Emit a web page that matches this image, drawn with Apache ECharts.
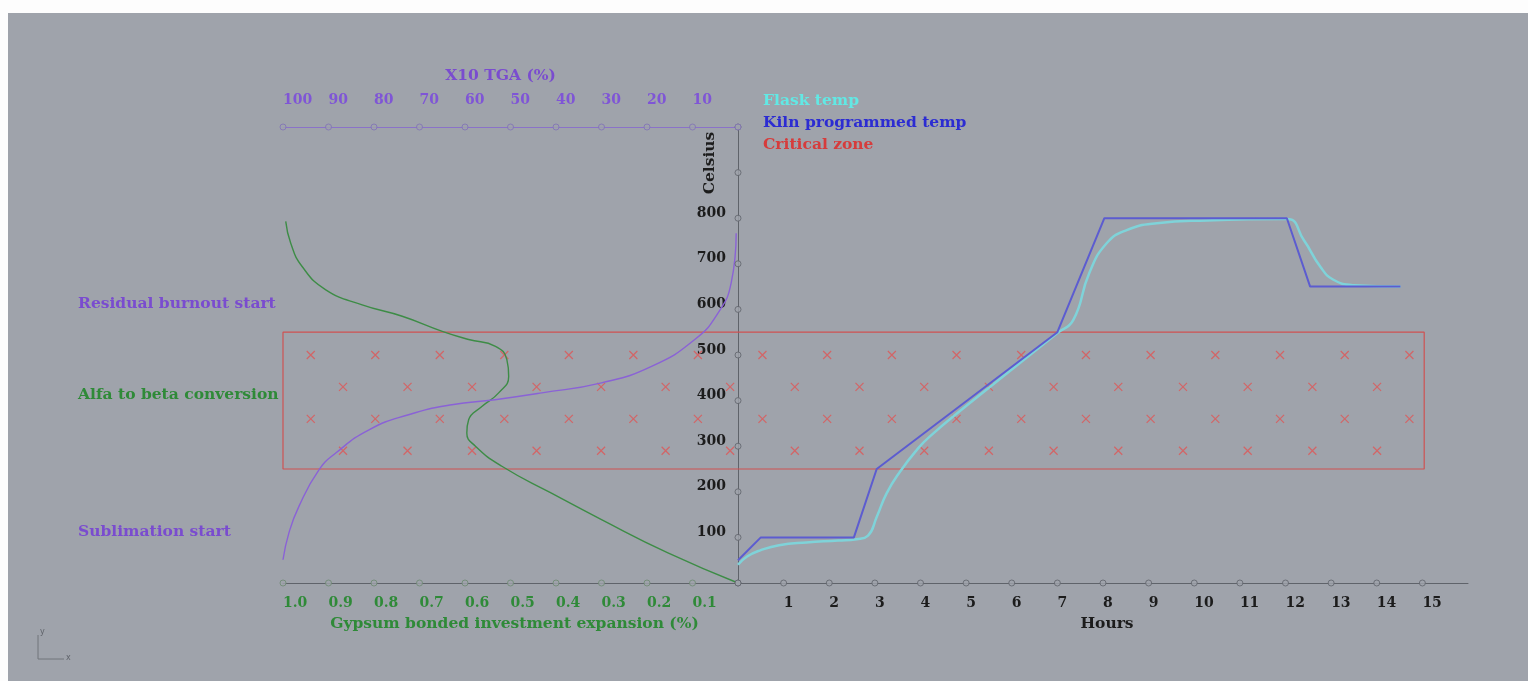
<!DOCTYPE html>
<html>
<head>
<meta charset="utf-8">
<title>Burnout chart</title>
<script src="https://cdn.jsdelivr.net/npm/echarts@6/dist/echarts.min.js"></script>
<style>
  html, body { margin: 0; padding: 0; background: #fdfdfd; }
  #paper { position: absolute; left: 8px; top: 13px; width: 1520px; height: 668px; background: #9fa3ab; }
  #chart { position: absolute; left: 0; top: 0; width: 1528px; height: 681px; }
</style>
</head>
<body>
<div id="paper"></div>
<div id="chart"></div>
<script>
// ---- data ----
const hourTicks = [0, 1, 2, 3, 4, 5, 6, 7, 8, 9, 10, 11, 12, 13, 14, 15]
const celsiusTicks = [0, 100, 200, 300, 400, 500, 600, 700, 800, 900, 1000]
const celsiusLabels = [100, 200, 300, 400, 500, 600, 700, 800]
const gypsumTicks = [0.1, 0.2, 0.3, 0.4, 0.5, 0.6, 0.7, 0.8, 0.9, 1.0]
const tgaTicks = [0, 10, 20, 30, 40, 50, 60, 70, 80, 90, 100]

// kiln programmed temp (hours, celsius)
const kilnHours = [0, 0.5, 2.54, 3.04, 7.0, 8.03, 12.03, 12.54, 14.52]
const kilnTemp = [50, 100, 100, 250, 550, 800, 800, 650, 650]

// flask temp (hours, celsius)
const flaskHours = [0, 0.2, 0.5, 0.9, 1.5, 2.2, 2.6, 2.85, 3.04, 3.26, 3.55, 3.92, 4.2, 5.0, 6.0, 7.0, 7.35, 7.7, 8.08, 8.52, 9.18, 10.28, 12.03, 12.4, 12.76, 13.05, 13.5, 14.52]
const flaskTemp = [40, 58, 72, 83, 89, 93, 96, 104, 145, 197, 244, 292, 321, 388, 468, 548, 577, 680, 745, 774, 789, 795, 798, 752, 694, 665, 653, 650]

// gypsum bonded investment expansion (%, celsius)
const gypsumExp = [0, 0.154, 0.30, 0.41, 0.519, 0.577, 0.596, 0.592, 0.563, 0.526, 0.504, 0.508, 0.533, 0.592, 0.65, 0.738, 0.826, 0.906, 0.958, 0.983, 0.994]
const gypsumTemp = [0, 66, 139, 197, 256, 300, 329, 358, 387, 417, 453, 490, 519, 534, 552, 585, 610, 643, 694, 745, 793]

// TGA x10 (%, celsius)
const tgaValue = [100, 98.7, 96.5, 92.1, 88.4, 81.1, 72.4, 62.9, 53.4, 43.1, 30.0, 19.0, 9.5, 4.4, 1.5, 0.4]
const tgaTemp = [51, 110, 168, 248, 285, 336, 369, 391, 402, 417, 439, 475, 534, 592, 658, 767]

// critical zone
const zoneLow = 250
const zoneHigh = 550
const zoneEndHour = 15.04
const zoneEndGypsum = 1.0

// cross hatch inside the critical zone (decoration)
const hatchRows = [500, 430, 360, 290]
const hatchStart = -9.39
const hatchStep = 1.418

// ---- build ----
const zip = (xs, ys) => xs.map((x, i) => [x, ys[i]])

let hatchLeft = []
let hatchRight = []
hatchRows.forEach((temp, i) => {
  for (let h = hatchStart + (i % 2) * hatchStep / 2; h < zoneEndHour; h += hatchStep) {
    // left half uses the gypsum scale: 0.1 % sits where 1 hour sits
    if (h < 0) hatchLeft.push([-h / 10, temp])
    else hatchRight.push([h, temp])
  }
})

const serif = 'DejaVu Serif'
const purple = '#7a4ccf'
const green = '#2f8a38'
const ink = '#1c1c1c'
const axisGray = '#5f636a'
const zoneRed = '#cf5252'
const bigFont = 'bold 15.5px "DejaVu Serif"'

const tickDot = (name, xi, yi, data, border) => ({
  name: name,
  type: 'scatter',
  xAxisIndex: xi,
  yAxisIndex: yi,
  data: data,
  symbol: 'circle',
  symbolSize: 6,
  silent: true,
  z: 5,
  itemStyle: { color: '#9fa3ab', borderColor: border, borderWidth: 1 }
})

const crossPath = 'path://M0,0L10,10M10,0L0,10'

let chart = echarts.init(document.getElementById('chart'), null, { renderer: 'canvas' })

chart.setOption({
  backgroundColor: 'transparent',
  animation: false,
  textStyle: { fontFamily: serif },
  grid: [
    { left: 283, top: 127, width: 455, height: 456 },
    { left: 738, top: 127, width: 730, height: 456 }
  ],
  legend: {
    orient: 'vertical',
    left: 753,
    top: 88,
    itemWidth: 0,
    itemHeight: 14,
    itemGap: 6,
    selectedMode: false,
    textStyle: { fontFamily: serif, fontWeight: 'bold', fontSize: 15.5 },
    data: [
      { name: 'Flask temp', icon: 'rect', textStyle: { color: '#62e8e4' } },
      { name: 'Kiln programmed temp', icon: 'rect', textStyle: { color: '#2c2cd2' } },
      { name: 'Critical zone', icon: 'rect', textStyle: { color: '#d63c3c' } }
    ]
  },
  xAxis: [
    {
      // gypsum expansion, bottom left
      type: 'value', gridIndex: 0, position: 'bottom', inverse: true,
      min: 0, max: 1.0, interval: 0.1,
      name: 'Gypsum bonded investment expansion (%)', nameLocation: 'middle', nameGap: 33,
      nameTextStyle: { color: green, fontFamily: serif, fontWeight: 'bold', fontSize: 15.5, padding: [0, 0, 0, 8] },
      axisLine: { lineStyle: { color: axisGray, width: 1 } },
      axisTick: { show: false },
      splitLine: { show: false },
      axisLabel: {
        color: green, fontFamily: serif, fontWeight: 'bold', fontSize: 14, margin: 13, align: 'left',
        formatter: v => v > 0.05 ? v.toFixed(1) : ''
      }
    },
    {
      // TGA, top left
      type: 'value', gridIndex: 0, position: 'top', inverse: true,
      min: 0, max: 100, interval: 10,
      name: 'X10 TGA (%)', nameLocation: 'middle', nameGap: 43,
      nameTextStyle: { color: purple, fontFamily: serif, fontWeight: 'bold', fontSize: 15.5, padding: [0, 20, 0, 0] },
      axisLine: { lineStyle: { color: '#8a72c8', width: 1 } },
      axisTick: { show: false },
      splitLine: { show: false },
      axisLabel: {
        color: '#7f55d6', fontFamily: serif, fontWeight: 'bold', fontSize: 14, margin: 20, align: 'left',
        formatter: v => v > 0 ? String(v) : ''
      }
    },
    {
      // hours, bottom right
      type: 'value', gridIndex: 1, position: 'bottom',
      min: 0, max: 16, interval: 1,
      name: 'Hours', nameLocation: 'middle', nameGap: 33,
      nameTextStyle: { color: ink, fontFamily: serif, fontWeight: 'bold', fontSize: 15.5, padding: [0, 0, 0, 8] },
      axisLine: { lineStyle: { color: axisGray, width: 1 } },
      axisTick: { show: false },
      splitLine: { show: false },
      axisLabel: {
        color: ink, fontFamily: serif, fontWeight: 'bold', fontSize: 14, margin: 13, align: 'left',
        formatter: v => (v > 0 && v < 16) ? String(v) : ''
      }
    }
  ],
  yAxis: [
    {
      type: 'value', gridIndex: 0, min: 0, max: 1000, interval: 100, show: false,
      splitLine: { show: false }
    },
    {
      type: 'value', gridIndex: 1, position: 'left', min: 0, max: 1000, interval: 100,
      axisLine: { show: true, lineStyle: { color: axisGray, width: 1 } },
      axisTick: { show: false },
      splitLine: { show: false },
      axisLabel: {
        color: ink, fontFamily: serif, fontWeight: 'bold', fontSize: 14, margin: 12,
        verticalAlign: 'bottom', lineHeight: 10,
        formatter: v => celsiusLabels.includes(v) ? String(v) : ''
      }
    }
  ],
  graphic: [
    {
      type: 'text', x: 710, y: 163, rotation: Math.PI / 2,
      style: { text: 'Celsius', fill: ink, font: bigFont, textAlign: 'center', textVerticalAlign: 'middle' }
    },
    {
      type: 'text', x: 78, y: 304,
      style: { text: 'Residual burnout start', fill: purple, font: bigFont, textVerticalAlign: 'middle' }
    },
    {
      type: 'text', x: 78, y: 395,
      style: { text: 'Alfa to beta conversion', fill: green, font: bigFont, textVerticalAlign: 'middle' }
    },
    {
      type: 'text', x: 78, y: 532,
      style: { text: 'Sublimation start', fill: purple, font: bigFont, textVerticalAlign: 'middle' }
    },
    // little xy gizmo in the corner
    { type: 'line', shape: { x1: 38, y1: 635, x2: 38, y2: 659 }, style: { stroke: '#70747b', lineWidth: 1 } },
    { type: 'line', shape: { x1: 38, y1: 659, x2: 64, y2: 659 }, style: { stroke: '#70747b', lineWidth: 1 } },
    { type: 'text', x: 40, y: 628, style: { text: 'y', fill: '#60646b', font: '8px "DejaVu Sans"' } },
    { type: 'text', x: 66, y: 654, style: { text: 'x', fill: '#60646b', font: '8px "DejaVu Sans"' } }
  ],
  series: [
    {
      name: 'Critical zone', type: 'line', xAxisIndex: 0, yAxisIndex: 0,
      data: [[0, zoneHigh], [zoneEndGypsum, zoneHigh], [zoneEndGypsum, zoneLow], [0, zoneLow]],
      symbol: 'none', silent: true, z: 1,
      lineStyle: { color: zoneRed, width: 1.2 }
    },
    {
      name: 'Critical zone', type: 'line', xAxisIndex: 2, yAxisIndex: 1,
      data: [[0, zoneHigh], [zoneEndHour, zoneHigh], [zoneEndHour, zoneLow], [0, zoneLow]],
      symbol: 'none', silent: true, z: 1,
      lineStyle: { color: zoneRed, width: 1.2 }
    },
    {
      name: 'hatch left', type: 'scatter', xAxisIndex: 0, yAxisIndex: 0,
      data: hatchLeft, symbol: crossPath, symbolSize: 8, silent: true, z: 2,
      itemStyle: { color: 'transparent', borderColor: '#e05555', borderWidth: 1.2 }
    },
    {
      name: 'hatch right', type: 'scatter', xAxisIndex: 2, yAxisIndex: 1,
      data: hatchRight, symbol: crossPath, symbolSize: 8, silent: true, z: 2,
      itemStyle: { color: 'transparent', borderColor: '#e05555', borderWidth: 1.2 }
    },
    {
      name: 'Gypsum expansion', type: 'line', xAxisIndex: 0, yAxisIndex: 0,
      data: zip(gypsumExp, gypsumTemp), symbol: 'none', smooth: 0.5, z: 3,
      lineStyle: { color: '#3d8c46', width: 1.4 }
    },
    {
      name: 'TGA', type: 'line', xAxisIndex: 1, yAxisIndex: 0,
      data: zip(tgaValue, tgaTemp), symbol: 'none', smooth: 0.5, z: 3,
      lineStyle: { color: '#8a62d6', width: 1.4 }
    },
    {
      name: 'Flask temp', type: 'line', xAxisIndex: 2, yAxisIndex: 1,
      data: zip(flaskHours, flaskTemp), symbol: 'none', smooth: 0.5, z: 3,
      lineStyle: { color: '#7fd3d9', width: 2.5 }
    },
    {
      name: 'Kiln programmed temp', type: 'line', xAxisIndex: 2, yAxisIndex: 1,
      data: zip(kilnHours, kilnTemp), symbol: 'none', z: 4,
      lineStyle: { color: '#5c5cd0', width: 2 }
    },
    tickDot('celsius ticks', 2, 1, celsiusTicks.map(v => [0, v]), '#5f636a'),
    tickDot('hour ticks', 2, 1, hourTicks.map(v => [v, 0]), '#5f636a'),
    tickDot('gypsum ticks', 0, 0, gypsumTicks.map(v => [v, 0]), '#6d8a70'),
    tickDot('tga ticks', 1, 0, tgaTicks.map(v => [v, 1000]), '#8070b8')
  ]
})
</script>
</body>
</html>
